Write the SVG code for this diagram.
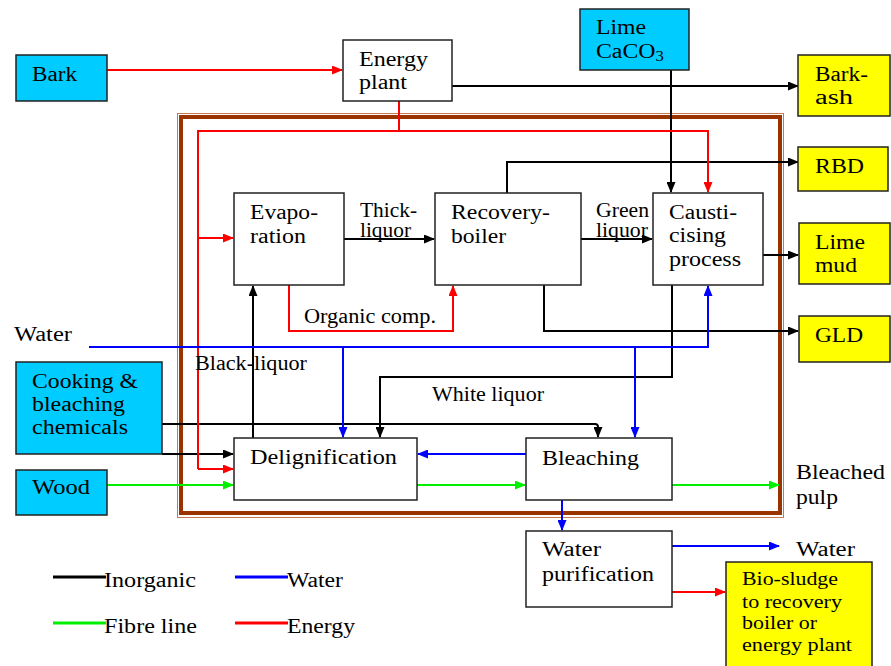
<svg xmlns="http://www.w3.org/2000/svg" width="891" height="666" viewBox="0 0 891 666" font-family="Liberation Serif" font-size="20">
<style>
text{fill:#000}
.sm{font-size:18px}
.box{stroke:#222;stroke-width:1.5}
.w{fill:#fff}.b{fill:#00ccff}.y{fill:#ffff00}
.ln{fill:none;stroke-width:2}
.k{stroke:#000}.r{stroke:#ff0000}.u{stroke:#0000ff}.g{stroke:#00ee00}
</style>
<defs>
<marker id="ak" markerUnits="userSpaceOnUse" markerWidth="11" markerHeight="9" refX="10" refY="4.5" orient="auto"><path d="M0,0 L11,4.5 L0,9 z" fill="#000"/></marker>
<marker id="ar" markerUnits="userSpaceOnUse" markerWidth="11" markerHeight="9" refX="10" refY="4.5" orient="auto"><path d="M0,0 L11,4.5 L0,9 z" fill="#ff0000"/></marker>
<marker id="au" markerUnits="userSpaceOnUse" markerWidth="11" markerHeight="9" refX="10" refY="4.5" orient="auto"><path d="M0,0 L11,4.5 L0,9 z" fill="#0000ff"/></marker>
<marker id="ag" markerUnits="userSpaceOnUse" markerWidth="11" markerHeight="9" refX="10" refY="4.5" orient="auto"><path d="M0,0 L11,4.5 L0,9 z" fill="#00ee00"/></marker>
</defs>
<rect width="891" height="666" fill="#fff"/>
<g id="frame">
<rect x="177.5" y="113.5" width="606" height="404" fill="none" stroke="#c87850" stroke-width="1"/>
<rect x="181" y="117" width="599" height="396" fill="none" stroke="#993300" stroke-width="4"/>
</g>
<g id="connectors">
<path class="ln k" d="M452,86 H798" marker-end="url(#ak)"/>
<path class="ln k" d="M671,70 V192" marker-end="url(#ak)"/>
<path class="ln k" d="M507,193 V162 H798" marker-end="url(#ak)"/>
<path class="ln k" d="M344,239 H434" marker-end="url(#ak)"/>
<path class="ln k" d="M581,239 H652" marker-end="url(#ak)"/>
<path class="ln k" d="M763,255 H798" marker-end="url(#ak)"/>
<path class="ln k" d="M544,285 V331 H798" marker-end="url(#ak)"/>
<path class="ln k" d="M253,438 V286" marker-end="url(#ak)"/>
<path class="ln k" d="M672,285 V377 H380 V437" marker-end="url(#ak)"/>
<path class="ln k" d="M162,424 H595 Q598,424 598,427 V437" marker-end="url(#ak)"/>
<path class="ln k" d="M162,454 H233" marker-end="url(#ak)"/>
<path class="ln r" d="M107,70 H342" marker-end="url(#ar)"/>
<path class="ln r" d="M399,101 V131"/>
<path class="ln r" d="M198,469 V131 H708 V192" marker-end="url(#ar)"/>
<path class="ln r" d="M198,238 H233" marker-end="url(#ar)"/>
<path class="ln r" d="M198,469 H233" marker-end="url(#ar)"/>
<path class="ln r" d="M289,285 V331 H453 V286" marker-end="url(#ar)"/>
<path class="ln r" d="M672,592 H725" marker-end="url(#ar)"/>
<path class="ln u" d="M89,347 H708 V286" marker-end="url(#au)"/>
<path class="ln u" d="M343,347 V437" marker-end="url(#au)"/>
<path class="ln u" d="M635,347 V437" marker-end="url(#au)"/>
<path class="ln u" d="M526,454 H418" marker-end="url(#au)"/>
<path class="ln u" d="M562,500 V530" marker-end="url(#au)"/>
<path class="ln u" d="M672,546 H779" marker-end="url(#au)"/>
<path class="ln g" d="M107,485 H233" marker-end="url(#ag)"/>
<path class="ln g" d="M417,485 H525" marker-end="url(#ag)"/>
<path class="ln g" d="M672,485 H779" marker-end="url(#ag)"/>
</g>
<g id="bark"><rect class="box b" x="16" y="55" width="91" height="46"/><text x="32" y="81" textLength="45" lengthAdjust="spacingAndGlyphs">Bark</text></g>
<g id="energy-plant"><rect class="box w" x="343" y="40" width="109" height="61"/><text x="359" y="66" textLength="69" lengthAdjust="spacingAndGlyphs">Energy</text><text x="359" y="89" textLength="48" lengthAdjust="spacingAndGlyphs">plant</text></g>
<g id="lime"><rect class="box b" x="580" y="9" width="109" height="61"/><text x="596" y="34" textLength="50" lengthAdjust="spacingAndGlyphs">Lime</text><text transform="translate(596,58) scale(1.19,1)">CaCO<tspan font-size="14" dy="3">3</tspan></text></g>
<g id="bark-ash"><rect class="box y" x="798" y="55" width="92" height="61"/><text x="815" y="81" textLength="53" lengthAdjust="spacingAndGlyphs">Bark-</text><text x="815" y="104" textLength="38" lengthAdjust="spacingAndGlyphs">ash</text></g>
<g id="rbd"><rect class="box y" x="798" y="147" width="90" height="44"/><text x="815" y="173" textLength="49" lengthAdjust="spacingAndGlyphs">RBD</text></g>
<g id="evaporation"><rect class="box w" x="234" y="193" width="110" height="92"/><text x="250" y="219" textLength="68" lengthAdjust="spacingAndGlyphs">Evapo-</text><text x="250" y="243" textLength="56" lengthAdjust="spacingAndGlyphs">ration</text></g>
<g id="recovery-boiler"><rect class="box w" x="435" y="193" width="146" height="92"/><text x="451" y="219" textLength="99" lengthAdjust="spacingAndGlyphs">Recovery-</text><text x="451" y="243" textLength="55" lengthAdjust="spacingAndGlyphs">boiler</text></g>
<g id="causticising"><rect class="box w" x="653" y="193" width="110" height="92"/><text x="669" y="219" textLength="68" lengthAdjust="spacingAndGlyphs">Causti-</text><text x="669" y="242" textLength="57" lengthAdjust="spacingAndGlyphs">cising</text><text x="669" y="266" textLength="72" lengthAdjust="spacingAndGlyphs">process</text></g>
<g id="lime-mud"><rect class="box y" x="799" y="223" width="91" height="61"/><text x="815" y="249" textLength="50" lengthAdjust="spacingAndGlyphs">Lime</text><text x="815" y="272" textLength="42" lengthAdjust="spacingAndGlyphs">mud</text></g>
<g id="gld"><rect class="box y" x="799" y="316" width="91" height="46"/><text x="815" y="342" textLength="48" lengthAdjust="spacingAndGlyphs">GLD</text></g>
<g id="cooking"><rect class="box b" x="16" y="362" width="146" height="92"/><text x="32" y="388" textLength="106" lengthAdjust="spacingAndGlyphs">Cooking &amp;</text><text x="32" y="411" textLength="93" lengthAdjust="spacingAndGlyphs">bleaching</text><text x="32" y="434" textLength="96" lengthAdjust="spacingAndGlyphs">chemicals</text></g>
<g id="wood"><rect class="box b" x="16" y="470" width="91" height="45"/><text x="32" y="494" textLength="58" lengthAdjust="spacingAndGlyphs">Wood</text></g>
<g id="delignification"><rect class="box w" x="234" y="438" width="183" height="62"/><text x="250" y="464" textLength="147" lengthAdjust="spacingAndGlyphs">Delignification</text></g>
<g id="bleaching"><rect class="box w" x="526" y="438" width="146" height="62"/><text x="542" y="465" textLength="97" lengthAdjust="spacingAndGlyphs">Bleaching</text></g>
<g id="water-purification"><rect class="box w" x="526" y="531" width="146" height="76"/><text x="542" y="556" textLength="59" lengthAdjust="spacingAndGlyphs">Water</text><text x="542" y="581" textLength="112" lengthAdjust="spacingAndGlyphs">purification</text></g>
<g id="bio-sludge"><rect class="box y" x="726" y="562" width="146" height="106"/><text class="sm" x="742" y="585" textLength="96" lengthAdjust="spacingAndGlyphs">Bio-sludge</text><text class="sm" x="742" y="608" textLength="100" lengthAdjust="spacingAndGlyphs">to recovery</text><text class="sm" x="742" y="629" textLength="75" lengthAdjust="spacingAndGlyphs">boiler or</text><text class="sm" x="742" y="651" textLength="110" lengthAdjust="spacingAndGlyphs">energy plant</text></g>
<g id="labels">
<text x="360" y="217" textLength="57" lengthAdjust="spacingAndGlyphs">Thick-</text>
<text x="360" y="237" textLength="51" lengthAdjust="spacingAndGlyphs">liquor</text>
<text x="596" y="217" textLength="53" lengthAdjust="spacingAndGlyphs">Green</text>
<text x="596" y="237" textLength="52" lengthAdjust="spacingAndGlyphs">liquor</text>
<text x="304" y="323" textLength="132" lengthAdjust="spacingAndGlyphs">Organic comp.</text>
<text x="195" y="370" textLength="112" lengthAdjust="spacingAndGlyphs">Black-liquor</text>
<text x="14" y="341" textLength="58" lengthAdjust="spacingAndGlyphs">Water</text>
<text x="432" y="401" textLength="112" lengthAdjust="spacingAndGlyphs">White liquor</text>
<text x="796" y="479" textLength="89" lengthAdjust="spacingAndGlyphs">Bleached</text>
<text x="796" y="504" textLength="42" lengthAdjust="spacingAndGlyphs">pulp</text>
<text x="796" y="556" textLength="59" lengthAdjust="spacingAndGlyphs">Water</text>
</g>
<g id="legend">
<path d="M53,577 H106" stroke="#000" stroke-width="3"/>
<path d="M235,577 H288" stroke="#0000ff" stroke-width="3"/>
<path d="M53,623 H106" stroke="#00ee00" stroke-width="3"/>
<path d="M235,623 H288" stroke="#ff0000" stroke-width="3"/>
<text x="104" y="587" textLength="92" lengthAdjust="spacingAndGlyphs">Inorganic</text>
<text x="287" y="587" textLength="56" lengthAdjust="spacingAndGlyphs">Water</text>
<text x="104" y="633" textLength="93" lengthAdjust="spacingAndGlyphs">Fibre line</text>
<text x="287" y="633" textLength="68" lengthAdjust="spacingAndGlyphs">Energy</text>
</g>
</svg>
